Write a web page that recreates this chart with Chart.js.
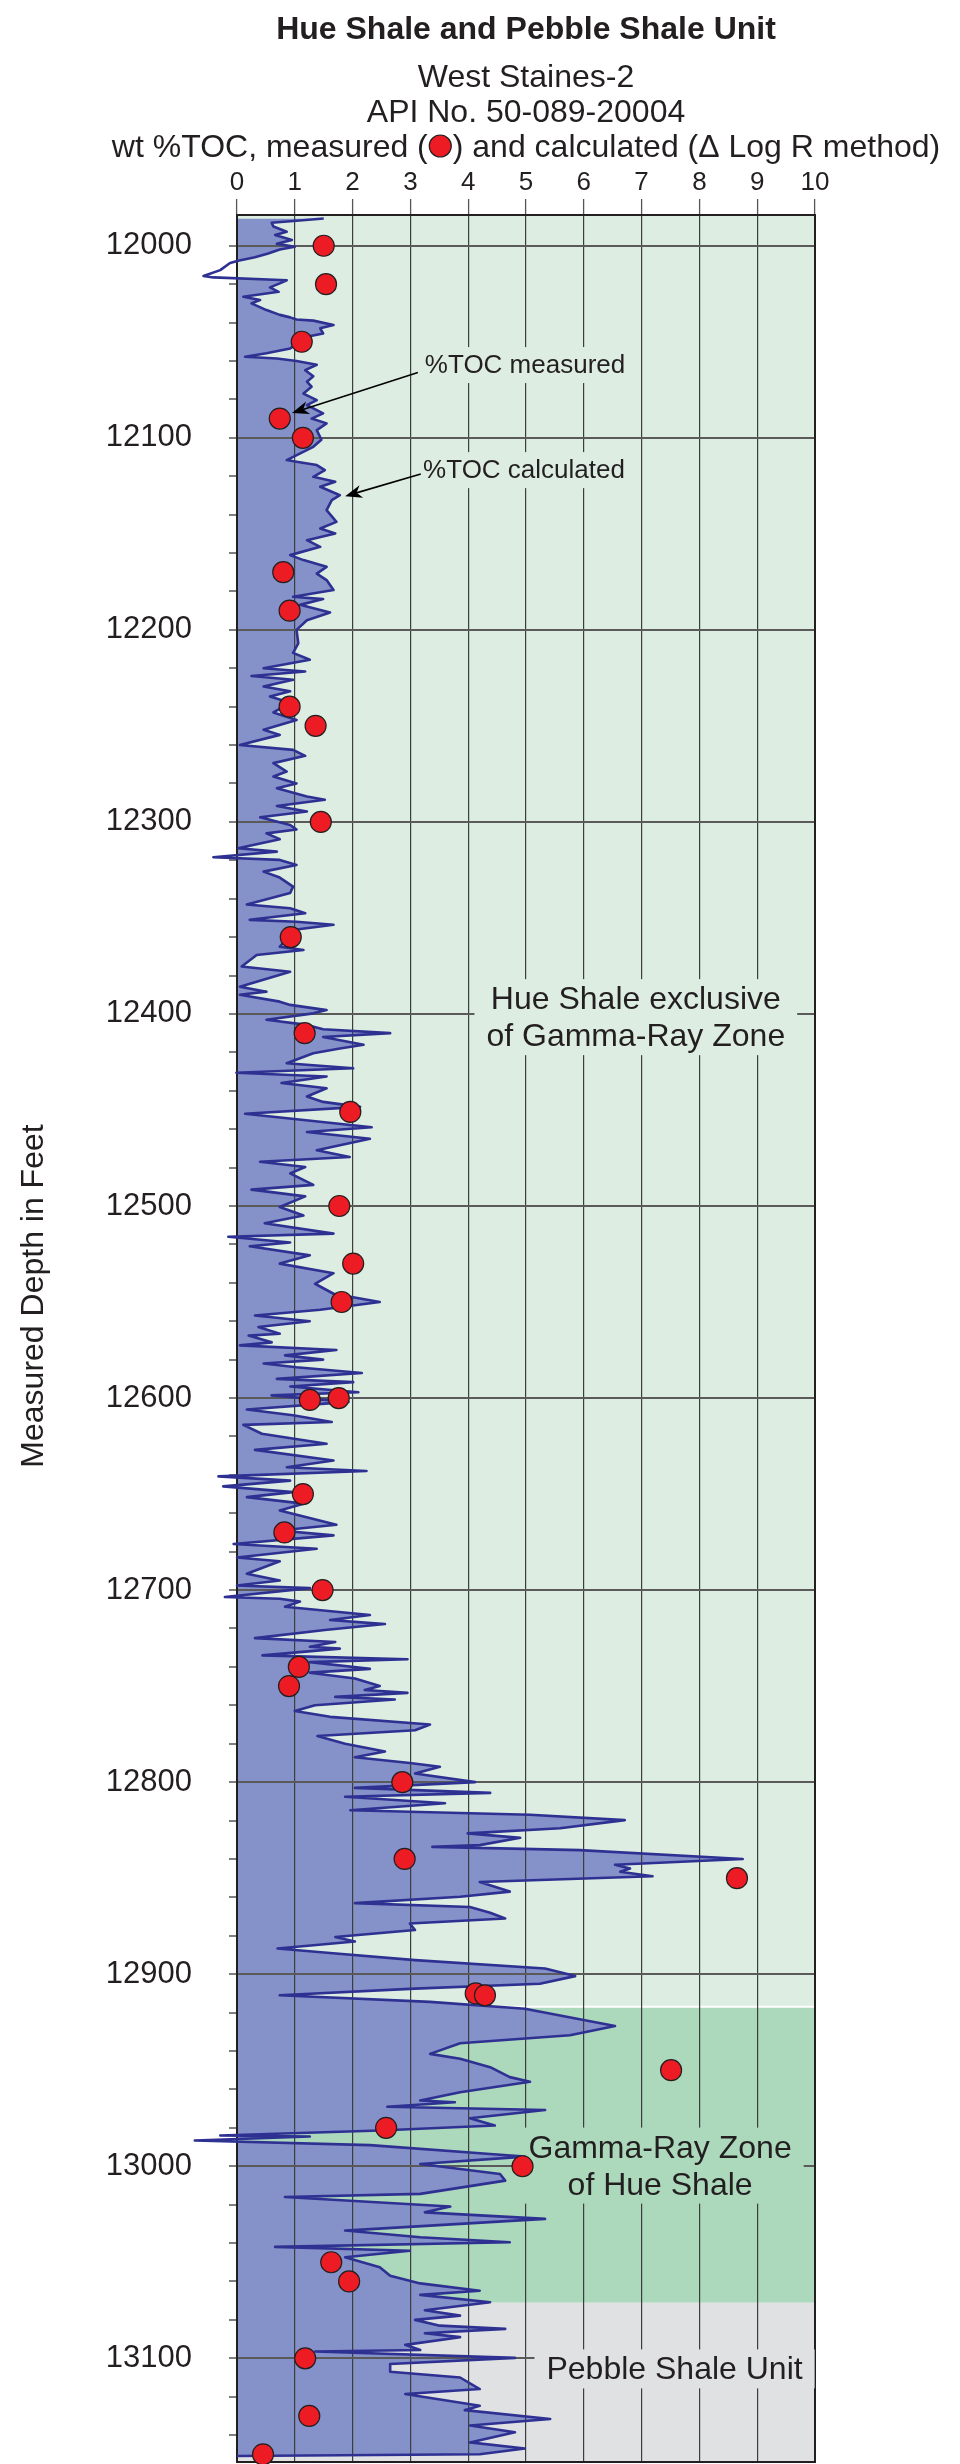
<!DOCTYPE html>
<html>
<head>
<meta charset="utf-8">
<title>Hue Shale and Pebble Shale Unit</title>
<script src="https://cdn.jsdelivr.net/npm/chart.js@4.4.1/dist/chart.umd.min.js"></script>
<style>
  html, body { margin: 0; padding: 0; background: #fff; }
  canvas { display: block; }
</style>
</head>
<body>
<canvas id="tocChart" width="960" height="2464"></canvas>
<script>
// measured TOC, wt % (red dots)
const measuredDepth = [12000, 12020, 12050, 12090, 12100, 12170, 12190, 12240, 12250, 12300,
  12360, 12410, 12451, 12500, 12530, 12550, 12600, 12601, 12650, 12670, 12700, 12740, 12750,
  12800, 12840, 12850, 12910, 12911, 12950, 12980, 13000, 13050, 13060, 13100, 13130, 13150];
const measuredToc = [1.50, 1.54, 1.12, 0.74, 1.14, 0.80, 0.91, 0.91, 1.36, 1.45,
  0.93, 1.17, 1.96, 1.77, 2.01, 1.81, 1.76, 1.26, 1.14, 0.82, 1.48, 1.07, 0.90,
  2.86, 2.90, 8.65, 4.13, 4.29, 7.51, 2.58, 4.94, 1.63, 1.94, 1.18, 1.25, 0.45];

// calculated TOC (delta log R) trace
const calcDepth = [
  11985.8, 11987, 11988, 11990, 11992.7, 11994.4, 11997, 11999, 12000.5, 12002,
  12004, 12006, 12007.8, 12009, 12012.7, 12015.8, 12016.5, 12018, 12019.6, 12021.7,
  12024, 12026.6, 12028.3, 12030, 12033.5, 12036, 12037.3, 12038.4, 12039, 12041.3,
  12043, 12045.7, 12047.4, 12050.9, 12053.5, 12056, 12057.8, 12058.7, 12060, 12062,
  12064.8, 12068, 12070.8, 12073.4, 12077, 12080.4, 12083, 12087.3, 12090, 12092.5,
  12096, 12101, 12104.7, 12111.6, 12112.5, 12114.2, 12116.8, 12120.3, 12122.9, 12125.5,
  12129.9, 12132.5, 12137.7, 12143.8, 12147.2, 12149.8, 12153.3, 12156.8, 12161.1, 12163.7,
  12167.2, 12170.7, 12174.1, 12179.3, 12182.8, 12184, 12187, 12191, 12195, 12200,
  12207, 12212, 12215.6, 12220, 12221.7, 12224, 12226, 12229.5, 12232, 12234.7,
  12238, 12243, 12247, 12252, 12254.7, 12260, 12262.5, 12265.6, 12269.4, 12273.8,
  12276.4, 12280, 12282.5, 12286.8, 12288.5, 12291.7, 12294.6, 12297.6, 12301.6, 12304,
  12306, 12309, 12313.7, 12315.5, 12318.4, 12319.8, 12322.4, 12325.9, 12329, 12333.7,
  12337, 12343, 12345, 12347.6, 12351, 12352, 12353.6, 12356, 12365, 12366.7,
  12369.3, 12375.3, 12378, 12385.8, 12388.4, 12390, 12393.6, 12395.3, 12398, 12399.7,
  12403, 12405.7, 12408, 12410, 12412, 12416, 12418, 12420.5, 12425.7, 12428.3,
  12430.6, 12432.6, 12436, 12438.7, 12443, 12445.8, 12448.4, 12452, 12459, 12461.5,
  12465, 12471, 12474.5, 12477, 12479.7, 12483, 12489, 12491.5, 12495, 12500.5,
  12505, 12509, 12514.4, 12516, 12519, 12521, 12525.7, 12530, 12535, 12540.5,
  12545.7, 12550, 12554, 12557, 12560, 12563, 12566.5, 12567.5, 12571, 12572.6,
  12575, 12577.8, 12580, 12582, 12584, 12587, 12590, 12591.7, 12594, 12597,
  12598.6, 12602, 12606, 12609, 12612.5, 12614, 12618.6, 12623.8, 12627, 12632.5,
  12636, 12638, 12640.8, 12643, 12646, 12649, 12651.6, 12655, 12658.5, 12666,
  12669, 12671.5, 12676, 12678.5, 12683, 12685, 12691.5, 12695, 12697.6, 12699,
  12703.6, 12704.5, 12706, 12708.7, 12713, 12715.6, 12717.7, 12720.8, 12725, 12727,
  12729.5, 12730.5, 12734, 12736, 12737.5, 12741, 12743, 12746, 12750, 12752,
  12753.5, 12755.6, 12757, 12760, 12763, 12766, 12770, 12773, 12776, 12780,
  12784, 12787, 12790, 12792, 12795.5, 12800, 12803, 12805.6, 12807.6, 12811,
  12814.6, 12817, 12819.8, 12824, 12826.7, 12829, 12832.8, 12833.7, 12835.4, 12840,
  12843, 12845, 12846.7, 12849, 12852, 12857, 12859.7, 12863, 12865, 12868,
  12871, 12873.6, 12877, 12880.6, 12883, 12886.6, 12889, 12892.7, 12897, 12901,
  12905, 12907.5, 12911, 12914.4, 12918, 12927, 12931.8, 12936, 12941.5, 12944,
  12948.4, 12953.6, 12956, 12961.5, 12965.8, 12966.7, 12969, 12970.7, 12975, 12978.8,
  12981.4, 12984, 12984.5, 12986.6, 12989, 12993.6, 12995, 12998.8, 13004, 13007.5,
  13014.4, 13016, 13021, 13024, 13027.4, 13033.5, 13037, 13039.6, 13042, 13044,
  13047.4, 13052.6, 13057, 13061, 13064.8, 13067, 13070.8, 13075, 13077.8, 13080,
  13083, 13084.7, 13087, 13089, 13093, 13095.7, 13096.5, 13099.8, 13103, 13107,
  13110, 13116, 13118.6, 13124.7, 13127, 13131.6, 13135, 13138.5, 13143.8, 13147,
  13150, 13150.9
];
const calcToc = [
  1.50, 1.03, 0.60, 0.63, 0.86, 0.66, 0.95, 0.69, 1.00, 0.74,
  0.54, 0.31, 0.02, -0.12, -0.29, -0.58, -0.41, 0.86, 0.74, 0.57,
  0.72, 0.11, 0.40, 0.25, 0.51, 0.74, 0.92, 1.03, 1.32, 1.67,
  1.44, 1.49, 1.21, 1.03, 0.92, 0.51, 0.14, 0.69, 1.03, 1.38,
  1.18, 1.32, 1.21, 1.29, 1.15, 1.38, 1.21, 1.49, 1.29, 1.55,
  1.38, 1.46, 1.32, 0.86, 1.03, 1.38, 1.52, 1.32, 1.70, 1.44,
  1.78, 1.64, 1.55, 1.72, 1.44, 1.70, 1.21, 1.44, 0.92, 1.15,
  1.55, 1.38, 1.55, 1.67, 0.97, 1.49, 1.09, 1.61, 1.21, 1.03,
  1.06, 0.97, 1.26, 0.46, 1.18, 0.25, 0.97, 0.46, 0.92, 0.57,
  0.92, 0.63, 1.03, 0.46, 0.74, 0.05, 0.97, 1.18, 0.63, 0.86,
  0.63, 1.03, 0.69, 1.21, 1.52, 0.69, 1.21, 0.40, 0.92, 1.03,
  0.51, 0.74, 0.02, 0.69, -0.41, 0.74, 1.03, 0.46, 0.74, 0.97,
  0.92, 0.17, 0.92, 1.18, 0.22, 1.03, 1.67, 1.03, 0.74, 1.15,
  0.34, 0.08, 0.92, 0.05, 0.51, 0.05, 0.74, 0.92, 1.55, 1.32,
  0.51, 1.21, 1.49, 2.65, 1.49, 2.19, 1.78, 1.32, 0.86, 2.01,
  -0.01, 1.55, 0.77, 1.55, 1.21, 1.49, 2.13, 0.14, 2.33, 1.21,
  2.30, 1.38, 1.95, 0.40, 1.18, 0.92, 1.32, 0.25, 1.18, 0.74,
  1.15, 0.48, 1.67, -0.15, 0.92, 0.22, 1.26, 0.74, 1.67, 1.35,
  1.67, 2.47, 1.44, 0.31, 1.26, 0.37, 0.74, 0.20, 0.60, 0.05,
  1.72, 0.83, 1.49, 0.46, 1.03, 2.16, 0.69, 2.01, 0.92, 2.10,
  0.60, 1.93, 0.17, 0.97, 1.64, 0.11, 0.43, 1.55, 0.31, 1.67,
  0.86, 2.24, -0.32, 0.92, -0.24, 0.97, 0.17, 1.15, 0.74, 1.72,
  0.74, 1.67, -0.06, 1.38, 0.00, 0.74, 0.17, 0.74, 0.00, 1.26,
  -0.21, 0.74, 1.09, 0.83, 2.30, 1.61, 2.56, 1.52, 0.31, 1.70,
  1.26, 1.78, 0.44, 2.95, 1.26, 2.30, 1.26, 2.04, 2.47, 2.21,
  2.95, 1.70, 2.73, 1.35, 1.00, 1.61, 3.34, 3.08, 1.39, 1.87,
  2.56, 2.04, 2.99, 3.51, 3.08, 4.12, 2.04, 4.38, 1.87, 3.60,
  1.96, 5.07, 6.71, 5.59, 3.99, 4.90, 4.20, 3.38, 5.93, 8.75,
  6.54, 6.80, 6.63, 7.19, 4.20, 4.72, 3.86, 2.04, 4.03, 4.38,
  4.64, 2.99, 3.08, 1.70, 2.04, 0.70, 1.61, 3.08, 5.33, 5.85,
  5.24, 3.08, 0.74, 3.34, 4.98, 6.54, 5.76, 3.86, 3.34, 3.86,
  4.38, 4.72, 5.07, 3.86, 3.17, 3.77, 2.60, 5.33, 4.03, 4.46,
  2.47, -0.29, 1.26, -0.73, 2.30, 4.38, 4.98, 3.17, 4.55, 4.64,
  3.17, 0.83, 3.69, 3.25, 5.33, 1.87, 3.17, 4.72, 0.66, 2.99,
  1.87, 2.47, 2.65, 3.17, 4.20, 3.17, 4.38, 3.25, 3.86, 3.08,
  3.51, 4.64, 3.25, 3.86, 2.91, 3.17, 1.35, 4.81, 2.65, 2.65,
  3.86, 4.20, 2.91, 4.20, 3.94, 5.42, 4.03, 4.81, 4.03, 4.98,
  4.20, 0.00
];

const depthRange = [11984, 13154];
const tocRange = [0, 10];

// stratigraphic intervals behind the log
const zoneTop = [11984, 12917, 13071];
const zoneBase = [12917, 13071, 13154];
const zoneColors = ['#ddede2', '#acd8bc', '#e0e1e3'];

const chartTitle = 'Hue Shale and Pebble Shale Unit';
const subTitle = ['West Staines-2', 'API No. 50-089-20004'];
const textColor = '#231f20';
const fontFamily = '"Liberation Sans", Arial, Helvetica, sans-serif';

// labels inside the plot (x in wt %, y = depth of first baseline)
const zoneLabels = [
  { lines: ['Hue Shale exclusive', 'of Gamma-Ray Zone'], x: 6.9, y: 12397.5, zone: 0 },
  { lines: ['Gamma-Ray Zone', 'of Hue Shale'], x: 7.32, y: 12995.5, zone: 1 },
  { lines: ['Pebble Shale Unit'], x: 7.57, y: 13111, zone: 2 }
];
const callouts = [
  { text: '%TOC measured', x: 3.25, y: 12066.3, from: [3.13, 12066], to: [0.95, 12087.1] },
  { text: '%TOC calculated', x: 3.22, y: 12121, from: [3.18, 12118.9], to: [1.87, 12130.4] }
];

function drawArrow(ctx, x1, y1, x2, y2) {
  const a = Math.atan2(y2 - y1, x2 - x1);
  const c = Math.cos(a), s = Math.sin(a);
  const len = 17, half = 6.5;
  ctx.beginPath();
  ctx.moveTo(x1, y1);
  ctx.lineTo(x2 - 10 * c, y2 - 10 * s);
  ctx.stroke();
  ctx.beginPath();
  ctx.moveTo(x2, y2);
  ctx.lineTo(x2 - len * c - half * s, y2 - len * s + half * c);
  ctx.lineTo(x2 - 0.7 * len * c, y2 - 0.7 * len * s);
  ctx.lineTo(x2 - len * c + half * s, y2 - len * s - half * c);
  ctx.closePath();
  ctx.fill();
}

// keep the plot box fixed: no extra room for half tick labels
function fixBox(size) {
  return s => {
    if (s.isHorizontal()) s.height = size; else s.width = size;
    s.paddingTop = 0;
    s.paddingBottom = 0;
    s.paddingLeft = 0;
    s.paddingRight = 0;
  };
}

const logPlugin = {
  id: 'logDecor',
  beforeDraw(chart) {
    // zone colours go underneath the filled log (filler already drew it)
    const { ctx, chartArea: a, scales: { y } } = chart;
    ctx.save();
    ctx.globalCompositeOperation = 'destination-over';
    const ys = y.getPixelForValue(zoneTop[1]);
    ctx.strokeStyle = '#ffffff';
    ctx.lineWidth = 2;
    ctx.beginPath();
    ctx.moveTo(a.left, ys);
    ctx.lineTo(a.right, ys);
    ctx.stroke();
    zoneTop.forEach((top, i) => {
      const y0 = y.getPixelForValue(top), y1 = y.getPixelForValue(zoneBase[i]);
      ctx.fillStyle = zoneColors[i];
      ctx.fillRect(a.left, y0, a.right - a.left, y1 - y0);
    });
    ctx.restore();
  },
  beforeDatasetsDraw(chart) {
    const { ctx, chartArea: a, scales: { x, y } } = chart;
    ctx.save();
    ctx.strokeStyle = textColor;
    ctx.lineWidth = 2;
    ctx.strokeRect(a.left, a.top, a.right - a.left, a.bottom - a.top);

    ctx.font = '32px ' + fontFamily;
    ctx.textAlign = 'center';
    ctx.textBaseline = 'alphabetic';
    zoneLabels.forEach(lb => {
      const cx = x.getPixelForValue(lb.x), by = y.getPixelForValue(lb.y);
      const w = Math.max(...lb.lines.map(t => ctx.measureText(t).width));
      const top = by - 30, bottom = by + (lb.lines.length - 1) * 37 + 9;
      ctx.fillStyle = zoneColors[lb.zone];
      ctx.fillRect(cx - w / 2 - 12, top, w + 24, bottom - top);
      ctx.fillStyle = textColor;
      lb.lines.forEach((t, k) => ctx.fillText(t, cx, by + k * 37));
    });

    ctx.font = '26px ' + fontFamily;
    ctx.textAlign = 'left';
    callouts.forEach(c => {
      const lx = x.getPixelForValue(c.x), by = y.getPixelForValue(c.y);
      const w = ctx.measureText(c.text).width;
      ctx.fillStyle = zoneColors[0];
      ctx.fillRect(lx - 6, by - 26, w + 14, 36);
      ctx.fillStyle = textColor;
      ctx.fillText(c.text, lx, by);
    });
    ctx.restore();
  },
  afterDatasetsDraw(chart) {
    const { ctx, scales: { x, y } } = chart;
    ctx.save();
    ctx.strokeStyle = '#000';
    ctx.fillStyle = '#000';
    ctx.lineWidth = 1.6;
    callouts.forEach(c => {
      drawArrow(ctx, x.getPixelForValue(c.from[0]), y.getPixelForValue(c.from[1]),
        x.getPixelForValue(c.to[0]), y.getPixelForValue(c.to[1]));
    });
    ctx.restore();
  },
  afterDraw(chart) {
    const { ctx, chartArea: a } = chart;
    const cx = (a.left + a.right) / 2;
    ctx.save();
    ctx.fillStyle = textColor;
    ctx.textAlign = 'center';
    ctx.textBaseline = 'alphabetic';
    ctx.font = 'bold 32px ' + fontFamily;
    ctx.fillText(chartTitle, cx, 39);
    ctx.font = '32px ' + fontFamily;
    ctx.fillText(subTitle[0], cx, 87);
    ctx.fillText(subTitle[1], cx, 122);

    // third line carries the red marker inline
    const left = 'wt %TOC, measured (', right = ') and calculated (\u0394 Log R method)';
    const r = 11, gap = 1.5;
    const wl = ctx.measureText(left).width, wr = ctx.measureText(right).width;
    const x0 = cx - (wl + wr + 2 * r + 2 * gap) / 2;
    ctx.textAlign = 'left';
    ctx.fillText(left, x0, 157);
    const mx = x0 + wl + gap + r;
    ctx.beginPath();
    ctx.arc(mx, 146, r, 0, Math.PI * 2);
    ctx.fillStyle = '#ed1c24';
    ctx.fill();
    ctx.lineWidth = 1.2;
    ctx.strokeStyle = textColor;
    ctx.stroke();
    ctx.fillStyle = textColor;
    ctx.fillText(right, mx + r + gap, 157);

    ctx.translate(43, 1296);
    ctx.rotate(-Math.PI / 2);
    ctx.textAlign = 'center';
    ctx.fillText('Measured Depth in Feet', 0, 0);
    ctx.restore();
  }
};

Chart.defaults.font.family = fontFamily;
Chart.defaults.color = textColor;

new Chart(document.getElementById('tocChart'), {
  type: 'line',
  data: {
    datasets: [
      {
        label: 'TOC measured',
        data: measuredDepth.map((d, i) => ({ x: measuredToc[i], y: d })),
        showLine: false,
        pointRadius: 10.5,
        pointBackgroundColor: '#ed1c24',
        pointBorderColor: textColor,
        pointBorderWidth: 1.2,
        clip: false
      },
      {
        label: 'TOC calculated',
        data: calcDepth.map((d, i) => ({ x: calcToc[i], y: d })),
        borderColor: '#2e3192',
        borderWidth: 2.6,
        backgroundColor: '#8591c9',
        fill: 'origin',
        pointRadius: 0,
        tension: 0,
        borderJoinStyle: 'round',
        clip: false
      }
    ]
  },
  options: {
    responsive: false,
    animation: false,
    indexAxis: 'y',
    layout: { autoPadding: false, padding: { left: 0, right: 145, top: 0, bottom: 2 } },
    scales: {
      x: {
        type: 'linear',
        position: 'top',
        min: tocRange[0],
        max: tocRange[1],
        ticks: { stepSize: 1, padding: 1, color: textColor, font: { size: 26 } },
        grid: { color: '#3d3d3d', lineWidth: 1.2, tickLength: 16, tickColor: '#555', tickWidth: 1.3 },
        border: { display: false },
        afterFit: fixBox(215)
      },
      y: {
        type: 'linear',
        reverse: true,
        min: depthRange[0],
        max: depthRange[1],
        ticks: {
          stepSize: 20,
          maxTicksLimit: 100,
          includeBounds: false,
          autoSkip: false,
          padding: 37,
          color: textColor,
          font: { size: 31 },
          callback: v => (v % 100 === 0 ? String(v) : '')
        },
        grid: {
          color: c => (c.tick && c.tick.value % 100 === 0 ? '#5a5a5a' : 'rgba(0,0,0,0)'),
          tickColor: c => (c.tick && c.tick.value % 20 === 0 ? '#555' : 'rgba(0,0,0,0)'),
          lineWidth: 2,
          tickWidth: 1.5,
          tickLength: 8
        },
        border: { display: false },
        afterFit: fixBox(237)
      }
    },
    plugins: {
      legend: { display: false },
      tooltip: { enabled: false },
      filler: { drawTime: 'beforeDraw' }
    }
  },
  plugins: [logPlugin]
});
</script>
</body>
</html>
